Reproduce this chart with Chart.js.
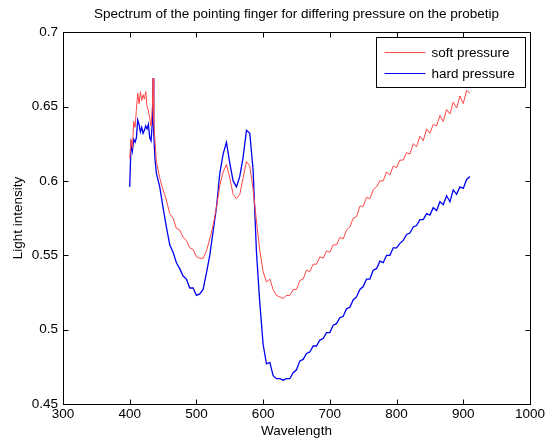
<!DOCTYPE html>
<html>
<head>
<meta charset="utf-8">
<script src="https://cdn.jsdelivr.net/npm/chart.js"></script>
<style>
  html, body { margin: 0; padding: 0; background: #fff; }
  #wrap { width: 547px; height: 442px; }
</style>
</head>
<body>
<div id="wrap"><canvas id="myChart" width="547" height="442"></canvas></div>
<script>
// wavelengths (nm), denser near the short-wavelength spike
const wavelength = [400, 402, 404, 406, 408, 410, 412, 414, 416, 418, 420, 422, 424, 426, 428, 430, 432, 434, 435, 436, 438, 440,
    445, 450, 455, 460, 465, 470, 475, 480, 485, 490, 495, 500, 505, 510, 515, 520, 525, 530, 535, 540, 545, 550,
    555, 560, 565, 570, 575, 580, 585, 590, 595, 600, 605, 610, 615, 620, 625, 630, 635, 640, 645, 650, 655, 660,
    665, 670, 675, 680, 685, 690, 695, 700, 705, 710, 715, 720, 725, 730, 735, 740, 745, 750, 755, 760, 765, 770,
    775, 780, 785, 790, 795, 800, 805, 810, 815, 820, 825, 830, 835, 840, 845, 850, 855, 860, 865, 870, 875, 880,
    885, 890, 895, 900, 905, 910];

const softPressure = [0.615, 0.628, 0.622, 0.640, 0.636, 0.648, 0.659, 0.652, 0.660, 0.654, 0.658, 0.655, 0.660, 0.650, 0.647, 0.642, 0.637, 0.650, 0.669, 0.640, 0.626, 0.613,
    0.602, 0.594, 0.587, 0.578, 0.575, 0.568, 0.567, 0.562, 0.560, 0.555, 0.554, 0.549, 0.548, 0.548, 0.553, 0.561, 0.570, 0.582, 0.597, 0.606, 0.611, 0.602,
    0.591, 0.588, 0.591, 0.602, 0.613, 0.610, 0.594, 0.573, 0.553, 0.539, 0.532, 0.534, 0.527, 0.523, 0.522, 0.521, 0.523, 0.523, 0.527, 0.527, 0.533, 0.534,
    0.540, 0.539, 0.544, 0.544, 0.549, 0.548, 0.553, 0.552, 0.557, 0.557, 0.562, 0.561, 0.567, 0.569, 0.575, 0.576, 0.583, 0.583, 0.589, 0.588, 0.594, 0.596,
    0.600, 0.600, 0.606, 0.604, 0.610, 0.609, 0.614, 0.614, 0.619, 0.618, 0.625, 0.623, 0.630, 0.627, 0.635, 0.632, 0.638, 0.637, 0.644, 0.640, 0.648, 0.645,
    0.653, 0.649, 0.657, 0.652, 0.661, 0.659];

const hardPressure = [0.596, 0.625, 0.620, 0.628, 0.626, 0.629, 0.641, 0.638, 0.633, 0.636, 0.632, 0.634, 0.637, 0.635, 0.638, 0.629, 0.627, 0.640, 0.669, 0.632, 0.614, 0.605,
    0.596, 0.582, 0.569, 0.557, 0.552, 0.545, 0.541, 0.536, 0.534, 0.528, 0.528, 0.523, 0.524, 0.527, 0.538, 0.550, 0.566, 0.582, 0.605, 0.618, 0.626, 0.612,
    0.600, 0.596, 0.603, 0.616, 0.634, 0.632, 0.607, 0.552, 0.518, 0.490, 0.477, 0.478, 0.469, 0.467, 0.467, 0.466, 0.467, 0.467, 0.471, 0.473, 0.479, 0.480,
    0.484, 0.485, 0.489, 0.489, 0.493, 0.494, 0.498, 0.498, 0.503, 0.504, 0.508, 0.509, 0.514, 0.515, 0.520, 0.522, 0.527, 0.529, 0.534, 0.534, 0.540, 0.541,
    0.546, 0.545, 0.550, 0.550, 0.555, 0.555, 0.558, 0.560, 0.564, 0.565, 0.569, 0.570, 0.574, 0.574, 0.578, 0.577, 0.582, 0.580, 0.586, 0.584, 0.590, 0.586,
    0.594, 0.591, 0.596, 0.595, 0.601, 0.603];

const xTicks = [300, 400, 500, 600, 700, 800, 900, 1000];
const yTicks = [0.45, 0.5, 0.55, 0.6, 0.65, 0.7];

const FONT = '"Liberation Sans", Arial, Helvetica, sans-serif';
const FS = 13.5;

// MATLAB style box, inward ticks on all four sides and legend inside the axes
const matlabAxes = {
    id: 'matlabAxes',
    afterDatasetsDraw(chart) {
        const { ctx, chartArea: a, scales: { x, y } } = chart;
        const L = Math.round(a.left) + 0.5, R = Math.round(a.right) + 0.5;
        const T = Math.round(a.top) + 0.5, B = Math.round(a.bottom) + 0.5;
        const tl = 5;
        ctx.save();
        ctx.strokeStyle = '#000';
        ctx.lineWidth = 1;
        ctx.beginPath();
        xTicks.forEach(v => {
            const px = Math.round(x.getPixelForValue(v)) + 0.5;
            ctx.moveTo(px, B); ctx.lineTo(px, B - tl);
            ctx.moveTo(px, T); ctx.lineTo(px, T + tl);
        });
        yTicks.forEach(v => {
            const py = Math.round(y.getPixelForValue(v)) + 0.5;
            ctx.moveTo(L, py); ctx.lineTo(L + tl, py);
            ctx.moveTo(R, py); ctx.lineTo(R - tl, py);
        });
        ctx.stroke();
        ctx.strokeRect(L, T, R - L, B - T);

        // legend
        const bw = 149, bh = 50;
        const bx = R - 5 - bw, by = T + 5;
        ctx.fillStyle = '#fff';
        ctx.fillRect(bx, by, bw, bh);
        ctx.strokeRect(bx, by, bw, bh);
        ctx.font = FS + 'px ' + FONT;
        ctx.textBaseline = 'middle';
        chart.data.datasets.forEach((ds, i) => {
            const ly = Math.round(by + 14 + i * 21) + 0.5;
            ctx.strokeStyle = ds.borderColor;
            ctx.lineWidth = 1;
            ctx.beginPath();
            ctx.moveTo(bx + 8, ly); ctx.lineTo(bx + 49, ly);
            ctx.stroke();
            ctx.fillStyle = '#000';
            ctx.fillText(ds.label, bx + 55, ly + 1);
        });
        ctx.restore();
    }
};

const ctx = document.getElementById('myChart').getContext('2d');
const myChart = new Chart(ctx, {
    type: 'line',
    data: {
        datasets: [{
            label: 'soft pressure',
            data: wavelength.map((w, i) => ({ x: w, y: softPressure[i] })),
            borderColor: 'rgb(255, 70, 70)',
            borderWidth: 1,
            pointRadius: 0,
            tension: 0
        }, {
            label: 'hard pressure',
            data: wavelength.map((w, i) => ({ x: w, y: hardPressure[i] })),
            borderColor: 'rgb(0, 0, 240)',
            borderWidth: 1.3,
            pointRadius: 0,
            tension: 0
        }]
    },
    options: {
        responsive: false,
        animation: false,
        layout: { padding: { left: 0, right: 15, top: 0, bottom: 0 } },
        plugins: {
            legend: { display: false },
            tooltip: { enabled: false },
            title: {
                display: true,
                text: 'Spectrum of the pointing finger for differing pressure on the probetip',
                fullSize: false,
                color: '#000',
                font: { family: FONT, size: FS, weight: 'normal' },
                padding: { top: 6, bottom: 10 }
            }
        },
        scales: {
            x: {
                type: 'linear',
                min: 300,
                max: 1000,
                afterBuildTicks: s => { s.ticks = xTicks.map(v => ({ value: v })); },
                afterFit: s => { s.height = 38; },
                grid: { display: false, drawTicks: false },
                border: { display: false },
                ticks: { color: '#000', padding: 2, maxRotation: 0, font: { family: FONT, size: FS }, callback: v => String(v) },
                title: { display: true, text: 'Wavelength', color: '#000', font: { family: FONT, size: FS }, padding: { top: 0, bottom: 3 } }
            },
            y: {
                min: 0.45,
                max: 0.7,
                afterBuildTicks: s => { s.ticks = yTicks.map(v => ({ value: v })); },
                afterFit: s => { s.width = 63; },
                grid: { display: false, drawTicks: false },
                border: { display: false },
                ticks: { color: '#000', padding: 5, font: { family: FONT, size: FS }, callback: v => String(+v.toFixed(2)) },
                title: { display: true, text: 'Light intensity', color: '#000', font: { family: FONT, size: FS }, padding: { top: 10, bottom: 0 } }
            }
        }
    },
    plugins: [matlabAxes]
});
</script>
</body>
</html>
